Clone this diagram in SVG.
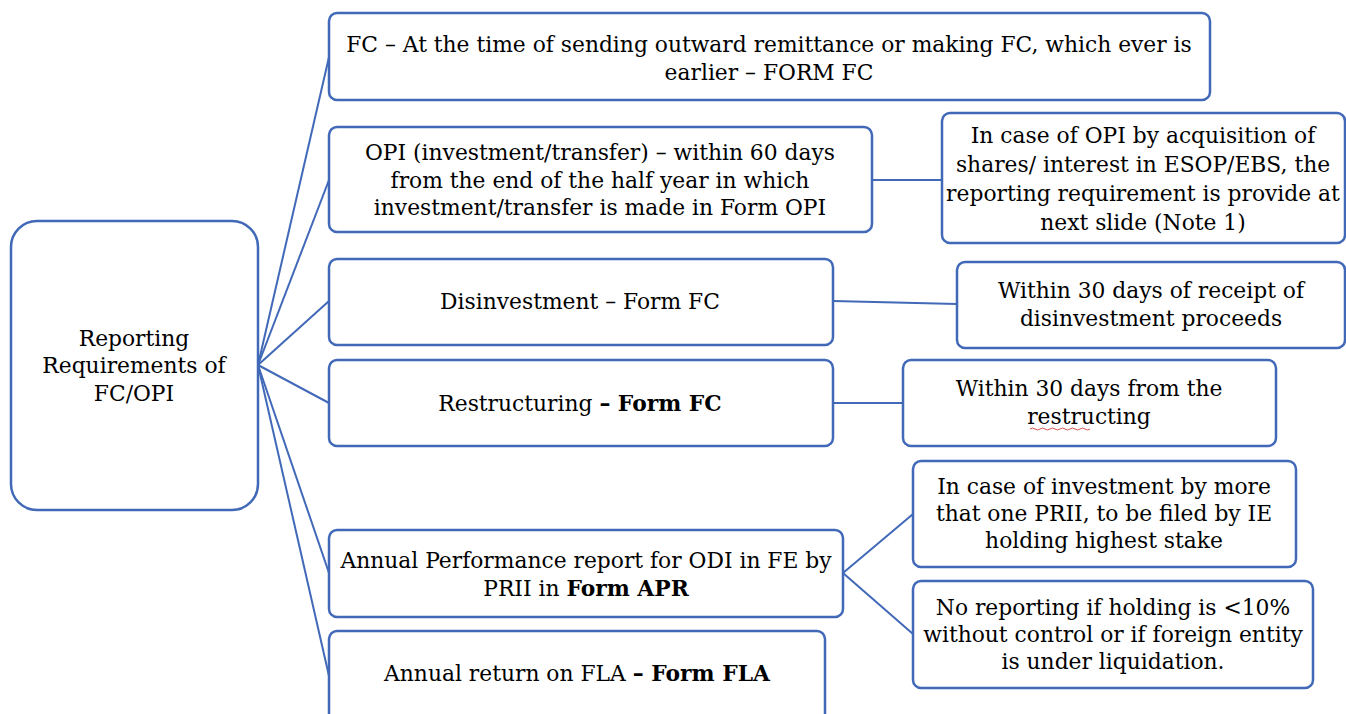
<svg xmlns="http://www.w3.org/2000/svg" width="1346" height="714" viewBox="0 0 1346 714">
<style>
.box{fill:#fff;stroke:#4169B8;stroke-width:2.5}
.t{font-family:"DejaVu Serif","Liberation Serif",serif;font-size:21.8px;fill:#000;text-anchor:middle}
.b{font-weight:bold}
.c{stroke:#4169B8;stroke-width:2;fill:none}
</style>
<rect width="1346" height="714" fill="#fff"/>
<g id="connectors">
<line class="c" x1="258" y1="365" x2="329" y2="57"/>
<line class="c" x1="258" y1="365" x2="329" y2="180"/>
<line class="c" x1="258" y1="365" x2="329" y2="301"/>
<line class="c" x1="258" y1="365" x2="329" y2="403"/>
<line class="c" x1="258" y1="365" x2="329" y2="573"/>
<line class="c" x1="258" y1="365" x2="329" y2="676"/>
<line class="c" x1="872" y1="180" x2="942" y2="180"/>
<line class="c" x1="833" y1="301" x2="957" y2="304"/>
<line class="c" x1="833" y1="403" x2="903" y2="403"/>
<line class="c" x1="843" y1="573" x2="913" y2="514"/>
<line class="c" x1="843" y1="573" x2="913" y2="634"/>
</g>
<g id="root">
<rect class="box" x="11" y="221" width="247" height="289" rx="26"/>
<text class="t"><tspan x="134" y="346">Reporting</tspan><tspan x="134" y="373">Requirements of</tspan><tspan x="134" y="401">FC/OPI</tspan></text>
</g>
<g id="fc">
<rect class="box" x="329" y="13" width="881" height="87" rx="8"/>
<text class="t"><tspan x="769" y="52">FC – At the time of sending outward remittance or making FC, which ever is</tspan><tspan x="769" y="80">earlier – FORM FC</tspan></text>
</g>
<g id="opi">
<rect class="box" x="329" y="127" width="543" height="105" rx="8"/>
<text class="t"><tspan x="600" y="160">OPI (investment/transfer) – within 60 days</tspan><tspan x="600" y="188">from the end of the half year in which</tspan><tspan x="600" y="215">investment/transfer is made in Form OPI</tspan></text>
</g>
<g id="esop">
<rect class="box" x="942" y="113" width="403" height="130" rx="8"/>
<text class="t"><tspan x="1143" y="143">In case of OPI by acquisition of</tspan><tspan x="1143" y="172">shares/ interest in ESOP/EBS, the</tspan><tspan x="1143" y="201">reporting requirement is provide at</tspan><tspan x="1143" y="230">next slide (Note 1)</tspan></text>
</g>
<g id="disinvestment">
<rect class="box" x="329" y="259" width="504" height="86" rx="8"/>
<text class="t" x="580" y="309">Disinvestment – Form FC</text>
</g>
<g id="receipt">
<rect class="box" x="957" y="262" width="388" height="86" rx="8"/>
<text class="t"><tspan x="1151" y="298">Within 30 days of receipt of</tspan><tspan x="1151" y="326">disinvestment proceeds</tspan></text>
</g>
<g id="restructuring">
<rect class="box" x="329" y="360" width="504" height="86" rx="8"/>
<text class="t" x="580" y="411">Restructuring <tspan class="b">– Form FC</tspan></text>
</g>
<g id="restructing">
<rect class="box" x="903" y="360" width="373" height="86" rx="8"/>
<text class="t"><tspan x="1089" y="396">Within 30 days from the</tspan><tspan x="1089" y="424">restructing</tspan></text>
<path d="M1030 429 q2.5 -2 5 0 t5 0 t5 0 t5 0 t5 0 t5 0 t5 0 t5 0 t5 0 t5 0 t5 0 t5 0" fill="none" stroke="#d9534f" stroke-width="1"/>
</g>
<g id="apr">
<rect class="box" x="329" y="530" width="514" height="87" rx="8"/>
<text class="t"><tspan x="586" y="568">Annual Performance report for ODI in FE by</tspan><tspan x="586" y="596">PRII in <tspan class="b">Form APR</tspan></tspan></text>
</g>
<g id="fla">
<rect class="box" x="329" y="631" width="496" height="100" rx="8"/>
<text class="t" x="577" y="681">Annual return on FLA <tspan class="b">– Form FLA</tspan></text>
</g>
<g id="multiple">
<rect class="box" x="913" y="461" width="383" height="106" rx="8"/>
<text class="t"><tspan x="1104" y="494">In case of investment by more</tspan><tspan x="1104" y="521">that one PRII, to be filed by IE</tspan><tspan x="1104" y="548">holding highest stake</tspan></text>
</g>
<g id="noreport">
<rect class="box" x="913" y="581" width="400" height="107" rx="8"/>
<text class="t"><tspan x="1113" y="615">No reporting if holding is &lt;10%</tspan><tspan x="1113" y="642">without control or if foreign entity</tspan><tspan x="1113" y="669">is under liquidation.</tspan></text>
</g>
</svg>
